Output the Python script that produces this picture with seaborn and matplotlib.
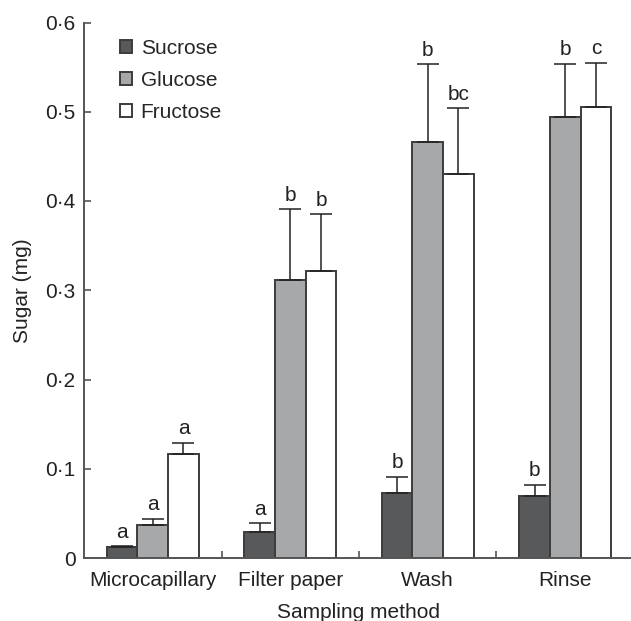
import numpy as np
import pandas as pd
import matplotlib
matplotlib.use("Agg")
import matplotlib.pyplot as plt
import seaborn as sns
from matplotlib.ticker import FuncFormatter

sns.set_style("ticks")
plt.rcParams['font.family'] = ['Liberation Sans', 'DejaVu Sans']

# data
methods = ["Microcapillary", "Filter paper", "Wash", "Rinse"]
sugars = ["Sucrose", "Glucose", "Fructose"]
sucrose = [0.012, 0.029, 0.073, 0.070]
glucose = [0.037, 0.311, 0.466, 0.494]
fructose = [0.116, 0.322, 0.430, 0.505]
sucrose_err = [0.001, 0.010, 0.018, 0.012]
glucose_err = [0.007, 0.080, 0.087, 0.060]
fructose_err = [0.013, 0.063, 0.074, 0.050]
letters = {
    "Sucrose": ["a", "a", "b", "b"],
    "Glucose": ["a", "b", "b", "b"],
    "Fructose": ["a", "b", "bc", "c"],
}

df = pd.DataFrame({
    "method": methods * 3,
    "sugar": np.repeat(sugars, 4),
    "value": sucrose + glucose + fructose,
    "err": sucrose_err + glucose_err + fructose_err,
})

colors = {"Sucrose": "#58595b", "Glucose": "#a6a8aa", "Fructose": "#ffffff"}
edge = "#3c3c3c"
FS = 15

fig = plt.figure(figsize=(6.31, 6.21), dpi=100)
ax = fig.add_axes([84 / 631, 63 / 621, 550 / 631, 535.5 / 621])

sns.barplot(data=df, x="method", y="value", hue="sugar", order=methods,
            hue_order=sugars, palette=colors, edgecolor=edge, linewidth=1.4,
            width=0.67, gap=0, errorbar=None, ax=ax)

# upper error bars and significance letters
for cont, s in zip(ax.containers, sugars):
    sub = df[df.sugar == s].set_index("method").loc[methods]
    xs = [p.get_x() + p.get_width() / 2 for p in cont.patches]
    ys = [p.get_height() for p in cont.patches]
    ax.errorbar(xs, ys, yerr=[np.zeros(4), sub["err"].values], fmt="none",
                ecolor="#222222", elinewidth=1.1, capsize=8, capthick=1.1,
                zorder=1)
    for x, y, e, t in zip(xs, ys, sub["err"].values, letters[s]):
        ax.text(x, y + e + 0.005, t, ha="center", va="bottom", fontsize=FS,
                color="#222222")

ax.set_xlim(-0.5, 3.5)
ax.set_ylim(0, 0.6)
ax.set_yticks(np.arange(0, 0.61, 0.1))
ax.yaxis.set_major_formatter(FuncFormatter(
    lambda v, p: "0" if abs(v) < 1e-9 else f"{v:.1f}".replace(".", "\u00b7")))
ax.set_xticks(range(4))
ax.set_xticklabels(methods)
ax.set_xticks([0.5, 1.5, 2.5], minor=True)
ax.tick_params(axis="x", which="major", length=0, labelsize=FS, pad=9,
               colors="#222222")
ax.tick_params(axis="x", which="minor", direction="in", length=5,
               color="#555555", width=1.2)
ax.tick_params(axis="y", direction="in", length=5, labelsize=FS,
               color="#555555", width=1.2, pad=6, labelcolor="#222222")

for side in ["top", "right"]:
    ax.spines[side].set_visible(False)
for side in ["left", "bottom"]:
    ax.spines[side].set_color("#555555")
    ax.spines[side].set_linewidth(1.4)

ax.set_xlabel("Sampling method", fontsize=FS, color="#222222", labelpad=10)
ax.set_ylabel("Sugar (mg)", fontsize=FS, color="#222222", labelpad=10)

leg = ax.legend(loc="upper left", bbox_to_anchor=(0.05, 0.985), frameon=False,
                fontsize=FS, handlelength=0.6, handleheight=0.6,
                handletextpad=0.4, labelspacing=0.62, borderaxespad=0)

fig.savefig("out.png", dpi=100)
